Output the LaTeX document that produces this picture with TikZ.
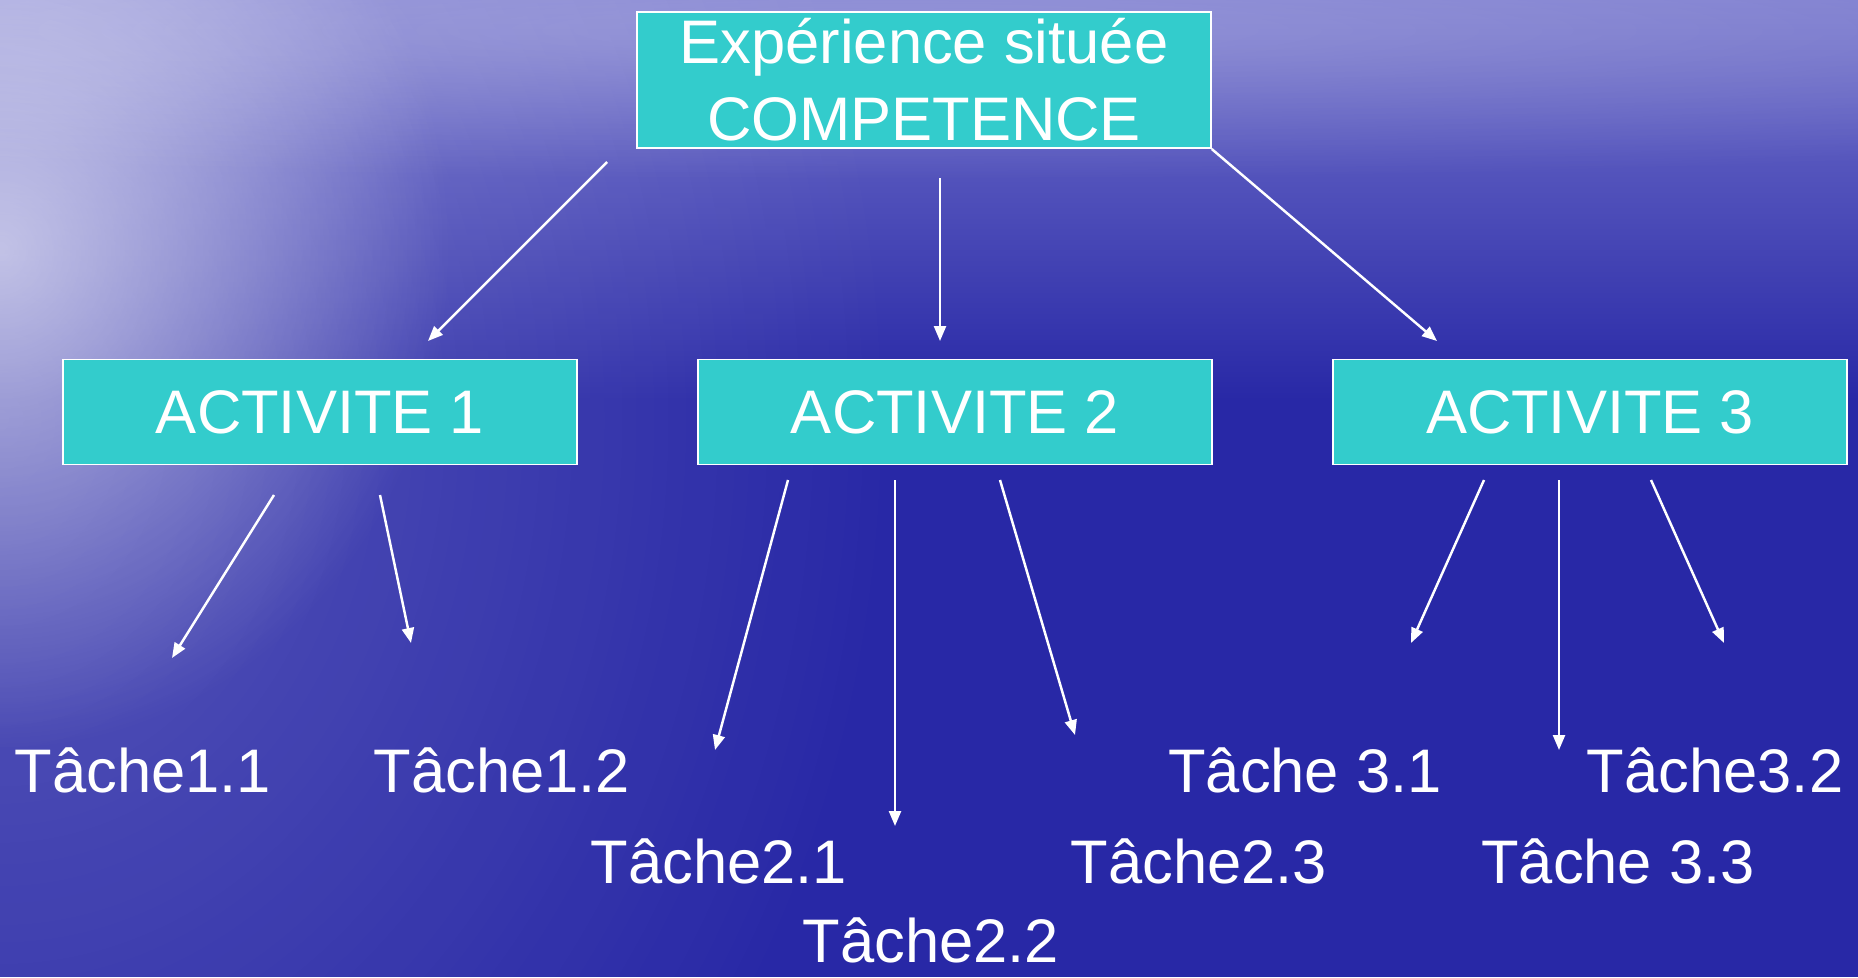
\documentclass[tikz,border=0pt]{standalone}
\usepackage{fontspec}
\setmainfont{Liberation Sans}
\usetikzlibrary{
	positioning,
	arrows.meta,
	fadings
}

\definecolor{seablue}{RGB}{40,40,166}
\definecolor{skyblue}{RGB}{116,116,204}
\definecolor{boxteal}{RGB}{51,204,204}

\tikzfading[name=glow, inner color=transparent!0, outer color=transparent!100]

\begin{document}
\begin{tikzpicture}[
			x=0.02cm, y=-0.02cm,
			block/.style={
				draw=white,
				line width=0.9pt,
				fill=boxteal,
				text=white,
				minimum width=10.28cm,
				minimum height=2.1cm,
				align=center,
				font=\fontsize{35}{44}\selectfont
			},
			task/.style={
				text=white,
				anchor=base,
				inner sep=0pt,
				font=\fontsize{35}{43}\selectfont
			},
			arrow/.style={-{Triangle[length=0.3cm,width=0.24cm]},draw=white,line width=1.4pt}
			]
			
			% background
			\useasboundingbox (0,0) rectangle (1858,977);
			\fill[seablue] (0,0) rectangle (1858,977);
			\shade[top color=skyblue, bottom color=seablue] (0,0) rectangle (1858,400);
			\fill[white, path fading=glow, fill opacity=0.22] (0,420) ellipse [x radius=18cm, y radius=22cm];
			\fill[white, path fading=glow, fill opacity=0.6] (0,250) ellipse [x radius=9cm, y radius=10cm];
			\fill[white, path fading=glow, fill opacity=0.25] (900,30) ellipse [x radius=40cm, y radius=3cm];
			
			\node[block, minimum width=11.48cm, minimum height=2.73cm] (comp) at (924,80)
			{Expérience située\\COMPETENCE};
			
			\node[block] (act1) at (320,412) {ACTIVITE 1};
			\node[block] (act2) at (955,412) {ACTIVITE 2};
			\node[block] (act3) at (1590,412) {ACTIVITE 3};
			
			\node[task] (t11) at (143,792) {Tâche1.1};
			\node[task] (t12) at (502,792) {Tâche1.2};
			\node[task] (t21) at (719,883) {Tâche2.1};
			\node[task] (t22) at (931,962) {Tâche2.2};
			\node[task] (t23) at (1199,883) {Tâche2.3};
			\node[task] (t31) at (1305,792) {Tâche 3.1};
			\node[task] (t32) at (1715,792) {Tâche3.2};
			\node[task] (t33) at (1618,883) {Tâche 3.3};
			
			% arrow ends
			\coordinate (c1s) at (607,162);
			\coordinate (c1e) at (428,341);
			\coordinate (c2s) at (940,178);
			\coordinate (c2e) at (940,341);
			\coordinate (c3e) at (1437,341);
			
			\coordinate (a11s) at (274,495);
			\coordinate (a11e) at (172,658);
			\coordinate (a12s) at (380,495);
			\coordinate (a12e) at (411,643);
			
			\coordinate (a21s) at (788,480);
			\coordinate (a21e) at (715,750);
			\coordinate (a22s) at (895,480);
			\coordinate (a22e) at (895,826);
			\coordinate (a23s) at (1000,480);
			\coordinate (a23e) at (1075,735);
			
			\coordinate (a31s) at (1484,480);
			\coordinate (a31e) at (1411,643);
			\coordinate (a32s) at (1559,480);
			\coordinate (a32e) at (1559,750);
			\coordinate (a33s) at (1651,480);
			\coordinate (a33e) at (1724,643);
			
			\draw[arrow] (c1s)--(c1e);
			\draw[arrow] (c2s)--(c2e);
			\draw[arrow] (comp.south east)--(c3e);
			
			\draw[arrow] (a11s)--(a11e);
			\draw[arrow] (a12s)--(a12e);
			\draw[arrow] (a21s)--(a21e);
			\draw[arrow] (a22s)--(a22e);
			\draw[arrow] (a23s)--(a23e);
			\draw[arrow] (a31s)--(a31e);
			\draw[arrow] (a32s)--(a32e);
			\draw[arrow] (a33s)--(a33e);
			
		\end{tikzpicture}
\end{document}
